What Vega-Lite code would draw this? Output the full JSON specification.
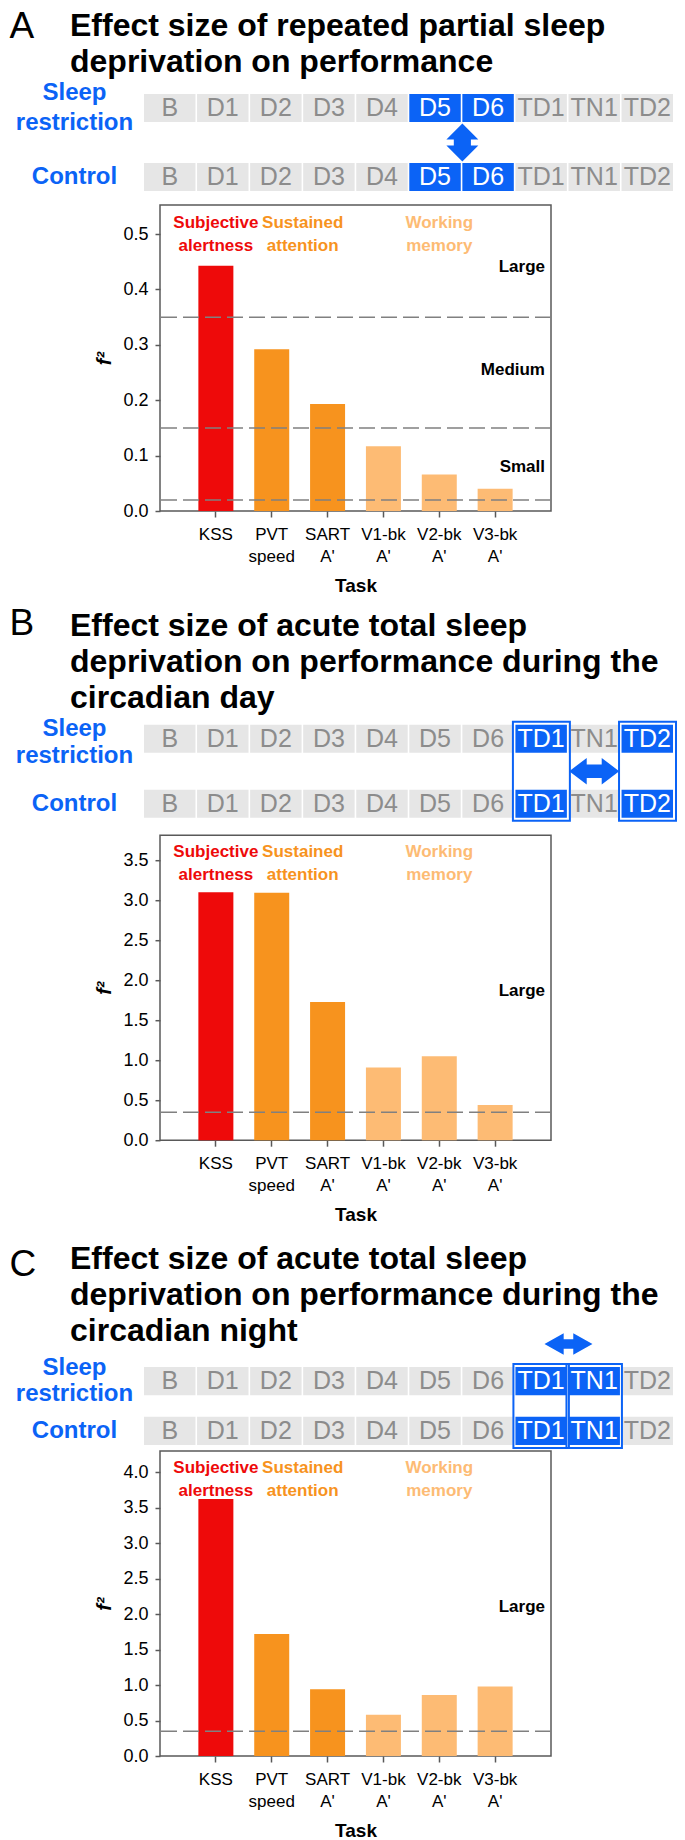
{
  "$schema": "https://vega.github.io/schema/vega-lite/v6.json",
  "padding": {"left": 9, "top": 7, "right": 2, "bottom": 2},
  "autosize": {"type": "pad"},
  "config": {
    "font": "Liberation Sans",
    "view": {"stroke": null},
    "axis": {"labelFont": "Liberation Sans", "titleFont": "Liberation Sans"},
    "title": {"font": "Liberation Sans"}
  },
  "datasets": {
    "schedA": [
      {"row": "Sleep restriction", "day": "B", "compared": "no"},
      {"row": "Sleep restriction", "day": "D1", "compared": "no"},
      {"row": "Sleep restriction", "day": "D2", "compared": "no"},
      {"row": "Sleep restriction", "day": "D3", "compared": "no"},
      {"row": "Sleep restriction", "day": "D4", "compared": "no"},
      {"row": "Sleep restriction", "day": "D5", "compared": "yes"},
      {"row": "Sleep restriction", "day": "D6", "compared": "yes"},
      {"row": "Sleep restriction", "day": "TD1", "compared": "no"},
      {"row": "Sleep restriction", "day": "TN1", "compared": "no"},
      {"row": "Sleep restriction", "day": "TD2", "compared": "no"},
      {"row": "Control", "day": "B", "compared": "no"},
      {"row": "Control", "day": "D1", "compared": "no"},
      {"row": "Control", "day": "D2", "compared": "no"},
      {"row": "Control", "day": "D3", "compared": "no"},
      {"row": "Control", "day": "D4", "compared": "no"},
      {"row": "Control", "day": "D5", "compared": "yes"},
      {"row": "Control", "day": "D6", "compared": "yes"},
      {"row": "Control", "day": "TD1", "compared": "no"},
      {"row": "Control", "day": "TN1", "compared": "no"},
      {"row": "Control", "day": "TD2", "compared": "no"}
    ],
    "schedB": [
      {"row": "Sleep restriction", "day": "B", "compared": "no"},
      {"row": "Sleep restriction", "day": "D1", "compared": "no"},
      {"row": "Sleep restriction", "day": "D2", "compared": "no"},
      {"row": "Sleep restriction", "day": "D3", "compared": "no"},
      {"row": "Sleep restriction", "day": "D4", "compared": "no"},
      {"row": "Sleep restriction", "day": "D5", "compared": "no"},
      {"row": "Sleep restriction", "day": "D6", "compared": "no"},
      {"row": "Sleep restriction", "day": "TD1", "compared": "yes"},
      {"row": "Sleep restriction", "day": "TN1", "compared": "no"},
      {"row": "Sleep restriction", "day": "TD2", "compared": "yes"},
      {"row": "Control", "day": "B", "compared": "no"},
      {"row": "Control", "day": "D1", "compared": "no"},
      {"row": "Control", "day": "D2", "compared": "no"},
      {"row": "Control", "day": "D3", "compared": "no"},
      {"row": "Control", "day": "D4", "compared": "no"},
      {"row": "Control", "day": "D5", "compared": "no"},
      {"row": "Control", "day": "D6", "compared": "no"},
      {"row": "Control", "day": "TD1", "compared": "yes"},
      {"row": "Control", "day": "TN1", "compared": "no"},
      {"row": "Control", "day": "TD2", "compared": "yes"}
    ],
    "schedC": [
      {"row": "Sleep restriction", "day": "B", "compared": "no"},
      {"row": "Sleep restriction", "day": "D1", "compared": "no"},
      {"row": "Sleep restriction", "day": "D2", "compared": "no"},
      {"row": "Sleep restriction", "day": "D3", "compared": "no"},
      {"row": "Sleep restriction", "day": "D4", "compared": "no"},
      {"row": "Sleep restriction", "day": "D5", "compared": "no"},
      {"row": "Sleep restriction", "day": "D6", "compared": "no"},
      {"row": "Sleep restriction", "day": "TD1", "compared": "yes"},
      {"row": "Sleep restriction", "day": "TN1", "compared": "yes"},
      {"row": "Sleep restriction", "day": "TD2", "compared": "no"},
      {"row": "Control", "day": "B", "compared": "no"},
      {"row": "Control", "day": "D1", "compared": "no"},
      {"row": "Control", "day": "D2", "compared": "no"},
      {"row": "Control", "day": "D3", "compared": "no"},
      {"row": "Control", "day": "D4", "compared": "no"},
      {"row": "Control", "day": "D5", "compared": "no"},
      {"row": "Control", "day": "D6", "compared": "no"},
      {"row": "Control", "day": "TD1", "compared": "yes"},
      {"row": "Control", "day": "TN1", "compared": "yes"},
      {"row": "Control", "day": "TD2", "compared": "no"}
    ],
    "effA": [
      {"task": "KSS", "group": "Subjective alertness", "f2": 0.443},
      {"task": "PVT speed", "group": "Sustained attention", "f2": 0.292},
      {"task": "SART A'", "group": "Sustained attention", "f2": 0.193},
      {"task": "V1-bk A'", "group": "Working memory", "f2": 0.117},
      {"task": "V2-bk A'", "group": "Working memory", "f2": 0.066},
      {"task": "V3-bk A'", "group": "Working memory", "f2": 0.040}
    ],
    "effB": [
      {"task": "KSS", "group": "Subjective alertness", "f2": 3.096},
      {"task": "PVT speed", "group": "Sustained attention", "f2": 3.09},
      {"task": "SART A'", "group": "Sustained attention", "f2": 1.725},
      {"task": "V1-bk A'", "group": "Working memory", "f2": 0.909},
      {"task": "V2-bk A'", "group": "Working memory", "f2": 1.05},
      {"task": "V3-bk A'", "group": "Working memory", "f2": 0.44}
    ],
    "effC": [
      {"task": "KSS", "group": "Subjective alertness", "f2": 3.625},
      {"task": "PVT speed", "group": "Sustained attention", "f2": 1.72},
      {"task": "SART A'", "group": "Sustained attention", "f2": 0.94},
      {"task": "V1-bk A'", "group": "Working memory", "f2": 0.58},
      {"task": "V2-bk A'", "group": "Working memory", "f2": 0.86},
      {"task": "V3-bk A'", "group": "Working memory", "f2": 0.98}
    ],
    "thrA": [
      {"threshold": 0.02, "level": "Small"},
      {"threshold": 0.15, "level": "Medium"},
      {"threshold": 0.35, "level": "Large"}
    ],
    "thrL": [
      {"threshold": 0.35, "level": "Large"}
    ],
    "groupsMain": [
      {"group": "Subjective alertness", "task": "KSS"},
      {"group": "Working memory", "task": "V2-bk A'"}
    ],
    "groupsSus": [
      {"group": "Sustained attention", "task": "PVT speed"}
    ],
    "outlineB": [
      {"day": "TD1", "from": "Sleep restriction", "to": "Control"},
      {"day": "TD2", "from": "Sleep restriction", "to": "Control"}
    ],
    "outlineC": [
      {"day": "TD1", "from": "Sleep restriction", "to": "Control"},
      {"day": "TN1", "from": "Sleep restriction", "to": "Control"}
    ]
  },
  "spacing": 8.7,
  "resolve": {"scale": {"color": "independent", "fill": "independent"}},
  "vconcat": [
    {
      "spacing": 13,
      "resolve": {"scale": {"color": "independent", "fill": "independent"}},
      "vconcat": [
        {
          "width": 513, "height": 97,
          "view": {"stroke": null},
          "title": {
            "text": ["Effect size of repeated partial sleep", "deprivation on performance"],
            "anchor": "start", "frame": "group", "dx": -90, "offset": -71.6,
            "fontSize": 32, "fontWeight": "bold", "color": "#000000", "lineHeight": 36
          },
          "data": {"name": "schedA"},
          "encoding": {
            "x": {"field": "day", "type": "nominal", "scale": {"domain": ["B","D1","D2","D3","D4","D5","D6","TD1","TN1","TD2"], "range": [-16, 513], "paddingInner": 0.03, "paddingOuter": 0}, "axis": null},
            "y": {"field": "row", "type": "nominal", "scale": {"domain": ["Sleep restriction", "Control"], "paddingInner": 0.594, "paddingOuter": 0},
              "axis": {"title": "A", "titleAngle": 0, "titleAlign": "left", "titleBaseline": "alphabetic", "titleX": -151, "titleY": -56.6, "titleFontSize": 37, "titleFontWeight": "normal", "titleColor": "#000000",
                "domain": false, "ticks": false, "tickSize": 0, "labelPadding": 86, "labelAlign": "center",
                "labelBaseline": {"condition": {"test": "datum.value == 'Sleep restriction'", "value": "line-bottom"}, "value": "middle"},
                "labelFontSize": 24, "labelFontWeight": "bold", "labelColor": "#0B63F6", "labelLineHeight": 30, "labelOverlap": false, "labelExpr": "datum.value == 'Sleep restriction' ? ['Sleep', 'restriction'] : datum.value"}}
          },
          "layer": [
            {"mark": {"type": "rect"}, "encoding": {"fill": {"field": "compared", "type": "nominal", "scale": {"domain": ["no","yes"], "range": ["#E6E6E6","#0B63F6"]}, "legend": null}}},
            {"mark": {"type": "text", "fontSize": 25, "font": "Liberation Sans Narrow, Liberation Sans", "baseline": "middle"}, "encoding": {"text": {"field": "day"}, "color": {"field": "compared", "type": "nominal", "scale": {"domain": ["no","yes"], "range": ["#8C8C8C","#FFFFFF"]}, "legend": null}}},
            {"data": {"values": [{"day": "D6", "row": "Sleep restriction"}]},
             "mark": {"type": "point", "shape": "M0,-1L0.84,-0.16L0.45,-0.16L0.45,0.16L0.84,0.16L0,1L-0.84,0.16L-0.45,0.16L-0.45,-0.16L-0.84,-0.16Z", "size": 1444, "filled": true, "color": "#0B63F6", "opacity": 1, "strokeWidth": 0, "yOffset": 20.5},
             "encoding": {"x": {"field": "day", "type": "nominal", "bandPosition": 0}, "y": {"field": "row", "type": "nominal", "bandPosition": 1}}}
          ]
        },
        {
          "width": 391, "height": 306,
          "view": {"stroke": "#595959", "strokeWidth": 1.5},
          "layer": [
            {"data": {"name": "effA"}, "mark": {"type": "bar"},
             "encoding": {
               "x": {"field": "task", "type": "nominal", "sort": null, "scale": {"domain": ["KSS","PVT speed","SART A'","V1-bk A'","V2-bk A'","V3-bk A'"], "paddingInner": 0.3734, "paddingOuter": 0.687},
                 "axis": {"title": "Task", "titleFontSize": 19, "titleFontWeight": "bold", "titleColor": "#000000", "titlePadding": 12, "labelAngle": 0, "labelFontSize": 17, "labelColor": "#000000", "labelLineHeight": 22, "labelPadding": 9, "labelBaseline": "top", "labelExpr": "split(datum.value, ' ')", "tickSize": 6, "tickColor": "#595959", "tickWidth": 1.5, "domain": false}},
               "y": {"field": "f2", "type": "quantitative", "scale": {"domain": [0, 0.5525], "nice": false, "zero": true},
                 "axis": {"title": "f²", "titleFontSize": 20, "titleFontWeight": "bold", "titleFontStyle": "italic", "titleColor": "#000000", "titlePadding": 8, "values": [0, 0.1, 0.2, 0.3, 0.4, 0.5], "tickCount": 20, "format": ".1f", "grid": false, "domain": false, "tickSize": 5, "tickColor": "#595959", "tickWidth": 1.5, "labelFontSize": 18, "labelColor": "#000000", "labelPadding": 7, "labelOverlap": false}},
               "color": {"field": "group", "type": "nominal", "scale": {"domain": ["Subjective alertness","Sustained attention","Working memory"], "range": ["#EE0A0A","#F7931E","#FDBB74"]}, "legend": null}
             }},
            {"data": {"name": "thrA"}, "mark": {"type": "rule", "color": "#808080", "strokeWidth": 1.5, "strokeDash": [16, 6]},
             "encoding": {"y": {"field": "threshold", "type": "quantitative"}}},
            {"data": {"values": [{"level": "Large"}]}, "mark": {"type": "text", "align": "right", "baseline": "middle", "dx": -6, "fontSize": 17, "fontWeight": "bold", "color": "#000000"},
             "encoding": {"x": {"value": "width"}, "y": {"datum": 0.44, "type": "quantitative"}, "text": {"field": "level"}}},
            {"data": {"values": [{"level": "Medium"}]}, "mark": {"type": "text", "align": "right", "baseline": "middle", "dx": -6, "fontSize": 17, "fontWeight": "bold", "color": "#000000"},
             "encoding": {"x": {"value": "width"}, "y": {"datum": 0.254, "type": "quantitative"}, "text": {"field": "level"}}},
            {"data": {"values": [{"level": "Small"}]}, "mark": {"type": "text", "align": "right", "baseline": "middle", "dx": -6, "fontSize": 17, "fontWeight": "bold", "color": "#000000"},
             "encoding": {"x": {"value": "width"}, "y": {"datum": 0.079, "type": "quantitative"}, "text": {"field": "level"}}},
            {"data": {"name": "groupsMain"}, "mark": {"type": "text", "lineBreak": " ", "fontSize": 17, "fontWeight": "bold", "lineHeight": 23, "baseline": "line-bottom"},
             "encoding": {"x": {"field": "task", "type": "nominal"}, "y": {"datum": 0.499, "type": "quantitative"}, "text": {"field": "group"}, "color": {"field": "group", "type": "nominal"}}},
            {"data": {"name": "groupsSus"}, "mark": {"type": "text", "lineBreak": " ", "fontSize": 17, "fontWeight": "bold", "lineHeight": 23, "baseline": "line-bottom"},
             "encoding": {"x": {"field": "task", "type": "nominal", "bandPosition": 1.386}, "y": {"datum": 0.499, "type": "quantitative"}, "text": {"field": "group"}, "color": {"field": "group", "type": "nominal"}}}
          ]
        }
      ]
    },
    {
      "spacing": 17.3,
      "resolve": {"scale": {"color": "independent", "fill": "independent"}},
      "vconcat": [
        {
          "spacing": 12.5,
          "resolve": {"scale": {"color": "independent", "fill": "independent"}},
          "vconcat": [
            {
              "width": 513, "height": 93,
              "view": {"stroke": null},
              "title": {
                "text": ["Effect size of acute total sleep", "deprivation on performance during the", "circadian day"],
                "anchor": "start", "frame": "group", "dx": -90, "offset": -110,
                "fontSize": 32, "fontWeight": "bold", "color": "#000000", "lineHeight": 36
              },
              "data": {"name": "schedB"},
              "encoding": {
                "x": {"field": "day", "type": "nominal", "scale": {"domain": ["B","D1","D2","D3","D4","D5","D6","TD1","TN1","TD2"], "range": [-16, 513], "paddingInner": 0.03, "paddingOuter": 0}, "axis": null},
                "y": {"field": "row", "type": "nominal", "scale": {"domain": ["Sleep restriction", "Control"], "paddingInner": 0.569, "paddingOuter": 0},
                  "axis": {"title": "B", "titleAngle": 0, "titleAlign": "left", "titleBaseline": "alphabetic", "titleX": -151, "titleY": -90, "titleFontSize": 37, "titleFontWeight": "normal", "titleColor": "#000000",
                    "domain": false, "ticks": false, "tickSize": 0, "labelPadding": 86, "labelAlign": "center",
                    "labelBaseline": {"condition": {"test": "datum.value == 'Sleep restriction'", "value": "line-bottom"}, "value": "middle"},
                    "labelOffset": {"condition": {"test": "datum.value == 'Sleep restriction'", "value": 4}, "value": 0},
                    "labelFontSize": 24, "labelFontWeight": "bold", "labelColor": "#0B63F6", "labelLineHeight": 27, "labelOverlap": false, "labelExpr": "datum.value == 'Sleep restriction' ? ['Sleep', 'restriction'] : datum.value"}}
              },
              "layer": [
                {"mark": {"type": "rect"}, "encoding": {"fill": {"field": "compared", "type": "nominal", "scale": {"domain": ["no","yes"], "range": ["#E6E6E6","#0B63F6"]}, "legend": null}}},
                {"mark": {"type": "text", "fontSize": 25, "font": "Liberation Sans Narrow, Liberation Sans", "baseline": "middle"}, "encoding": {"text": {"field": "day"}, "color": {"field": "compared", "type": "nominal", "scale": {"domain": ["no","yes"], "range": ["#8C8C8C","#FFFFFF"]}, "legend": null}}},
                {"data": {"name": "outlineB"},
                 "mark": {"type": "rect", "filled": false, "stroke": "#0B63F6", "strokeWidth": 2, "xOffset": -2.5, "x2Offset": 3, "yOffset": -3, "y2Offset": 3},
                 "encoding": {"x": {"field": "day", "type": "nominal", "bandPosition": 0}, "x2": {"field": "day", "bandPosition": 1}, "y": {"field": "from", "type": "nominal", "bandPosition": 0}, "y2": {"field": "to", "bandPosition": 1}}},
                {"data": {"values": [{"day": "TN1", "row": "Sleep restriction"}]},
                 "mark": {"type": "point", "shape": "M-1,0L-0.3,-0.53L-0.3,-0.27L0.3,-0.27L0.3,-0.53L1,0L0.3,0.53L0.3,0.27L-0.3,0.27L-0.3,0.53Z", "size": 2500, "filled": true, "color": "#0B63F6", "opacity": 1, "strokeWidth": 0, "yOffset": 18.5},
                 "encoding": {"x": {"field": "day", "type": "nominal", "bandPosition": 0.5}, "y": {"field": "row", "type": "nominal", "bandPosition": 1}}}
              ]
            },
            {
              "width": 391, "height": 305,
              "view": {"stroke": "#595959", "strokeWidth": 1.5},
              "layer": [
                {"data": {"name": "effB"}, "mark": {"type": "bar"},
                 "encoding": {
                   "x": {"field": "task", "type": "nominal", "sort": null, "scale": {"domain": ["KSS","PVT speed","SART A'","V1-bk A'","V2-bk A'","V3-bk A'"], "paddingInner": 0.3734, "paddingOuter": 0.687},
                     "axis": {"title": "Task", "titleFontSize": 19, "titleFontWeight": "bold", "titleColor": "#000000", "titlePadding": 12, "labelAngle": 0, "labelFontSize": 17, "labelColor": "#000000", "labelLineHeight": 22, "labelPadding": 9, "labelBaseline": "top", "labelExpr": "split(datum.value, ' ')", "tickSize": 6, "tickColor": "#595959", "tickWidth": 1.5, "domain": false}},
                   "y": {"field": "f2", "type": "quantitative", "scale": {"domain": [0, 3.81], "nice": false, "zero": true},
                     "axis": {"title": "f²", "titleFontSize": 20, "titleFontWeight": "bold", "titleFontStyle": "italic", "titleColor": "#000000", "titlePadding": 8, "values": [0, 0.5, 1, 1.5, 2, 2.5, 3, 3.5], "tickCount": 20, "format": ".1f", "grid": false, "domain": false, "tickSize": 5, "tickColor": "#595959", "tickWidth": 1.5, "labelFontSize": 18, "labelColor": "#000000", "labelPadding": 7, "labelOverlap": false}},
                   "color": {"field": "group", "type": "nominal", "scale": {"domain": ["Subjective alertness","Sustained attention","Working memory"], "range": ["#EE0A0A","#F7931E","#FDBB74"]}, "legend": null}
                 }},
                {"data": {"name": "thrL"}, "mark": {"type": "rule", "color": "#808080", "strokeWidth": 1.5, "strokeDash": [16, 6]},
                 "encoding": {"y": {"field": "threshold", "type": "quantitative"}}},
                {"data": {"values": [{"level": "Large"}]}, "mark": {"type": "text", "align": "right", "baseline": "middle", "dx": -6, "fontSize": 17, "fontWeight": "bold", "color": "#000000"},
                 "encoding": {"x": {"value": "width"}, "y": {"datum": 1.86, "type": "quantitative"}, "text": {"field": "level"}}},
                {"data": {"name": "groupsMain"}, "mark": {"type": "text", "lineBreak": " ", "fontSize": 17, "fontWeight": "bold", "lineHeight": 23, "baseline": "line-bottom"},
                 "encoding": {"x": {"field": "task", "type": "nominal"}, "y": {"datum": 3.45, "type": "quantitative"}, "text": {"field": "group"}, "color": {"field": "group", "type": "nominal"}}},
                {"data": {"name": "groupsSus"}, "mark": {"type": "text", "lineBreak": " ", "fontSize": 17, "fontWeight": "bold", "lineHeight": 23, "baseline": "line-bottom"},
                 "encoding": {"x": {"field": "task", "type": "nominal", "bandPosition": 1.386}, "y": {"datum": 3.45, "type": "quantitative"}, "text": {"field": "group"}, "color": {"field": "group", "type": "nominal"}}}
              ]
            }
          ]
        },
        {
          "spacing": 1,
          "resolve": {"scale": {"color": "independent", "fill": "independent"}},
          "vconcat": [
            {
              "width": 513, "height": 78,
              "view": {"stroke": null},
              "title": {
                "text": ["Effect size of acute total sleep", "deprivation on performance during the", "circadian night"],
                "anchor": "start", "frame": "group", "dx": -90, "offset": -102.9,
                "fontSize": 32, "fontWeight": "bold", "color": "#000000", "lineHeight": 36
              },
              "data": {"name": "schedC"},
              "encoding": {
                "x": {"field": "day", "type": "nominal", "scale": {"domain": ["B","D1","D2","D3","D4","D5","D6","TD1","TN1","TD2"], "range": [-16, 513], "paddingInner": 0.03, "paddingOuter": 0}, "axis": null},
                "y": {"field": "row", "type": "nominal", "scale": {"domain": ["Sleep restriction", "Control"], "paddingInner": 0.432, "paddingOuter": 0},
                  "axis": {"title": "C", "titleAngle": 0, "titleAlign": "left", "titleBaseline": "alphabetic", "titleX": -151, "titleY": -91.6, "titleFontSize": 37, "titleFontWeight": "normal", "titleColor": "#000000",
                    "domain": false, "ticks": false, "tickSize": 0, "labelPadding": 86, "labelAlign": "center",
                    "labelBaseline": {"condition": {"test": "datum.value == 'Sleep restriction'", "value": "line-bottom"}, "value": "middle"},
                    "labelFontSize": 24, "labelFontWeight": "bold", "labelColor": "#0B63F6", "labelLineHeight": 26, "labelOverlap": false, "labelExpr": "datum.value == 'Sleep restriction' ? ['Sleep', 'restriction'] : datum.value"}}
              },
              "layer": [
                {"mark": {"type": "rect"}, "encoding": {"fill": {"field": "compared", "type": "nominal", "scale": {"domain": ["no","yes"], "range": ["#E6E6E6","#0B63F6"]}, "legend": null}}},
                {"mark": {"type": "text", "fontSize": 25, "font": "Liberation Sans Narrow, Liberation Sans", "baseline": "middle"}, "encoding": {"text": {"field": "day"}, "color": {"field": "compared", "type": "nominal", "scale": {"domain": ["no","yes"], "range": ["#8C8C8C","#FFFFFF"]}, "legend": null}}},
                {"data": {"name": "outlineC"},
                 "mark": {"type": "rect", "filled": false, "stroke": "#0B63F6", "strokeWidth": 2, "xOffset": -2, "x2Offset": 2, "yOffset": -3, "y2Offset": 3},
                 "encoding": {"x": {"field": "day", "type": "nominal", "bandPosition": 0}, "x2": {"field": "day", "bandPosition": 1}, "y": {"field": "from", "type": "nominal", "bandPosition": 0}, "y2": {"field": "to", "bandPosition": 1}}},
                {"data": {"values": [{"day": "TN1", "row": "Sleep restriction"}]},
                 "mark": {"type": "point", "shape": "M-1,0L-0.2,-0.45L-0.2,-0.2L0.2,-0.2L0.2,-0.45L1,0L0.2,0.45L0.2,0.2L-0.2,0.2L-0.2,0.45Z", "size": 2304, "filled": true, "color": "#0B63F6", "opacity": 1, "strokeWidth": 0, "yOffset": -23},
                 "encoding": {"x": {"field": "day", "type": "nominal", "bandPosition": 0}, "y": {"field": "row", "type": "nominal", "bandPosition": 0}}}
              ]
            },
            {
              "width": 391, "height": 305,
              "view": {"stroke": "#595959", "strokeWidth": 1.5},
              "layer": [
                {"data": {"name": "effC"}, "mark": {"type": "bar"},
                 "encoding": {
                   "x": {"field": "task", "type": "nominal", "sort": null, "scale": {"domain": ["KSS","PVT speed","SART A'","V1-bk A'","V2-bk A'","V3-bk A'"], "paddingInner": 0.3734, "paddingOuter": 0.687},
                     "axis": {"title": "Task", "titleFontSize": 19, "titleFontWeight": "bold", "titleColor": "#000000", "titlePadding": 12, "labelAngle": 0, "labelFontSize": 17, "labelColor": "#000000", "labelLineHeight": 22, "labelPadding": 9, "labelBaseline": "top", "labelExpr": "split(datum.value, ' ')", "tickSize": 6, "tickColor": "#595959", "tickWidth": 1.5, "domain": false}},
                   "y": {"field": "f2", "type": "quantitative", "scale": {"domain": [0, 4.3], "nice": false, "zero": true},
                     "axis": {"title": "f²", "titleFontSize": 20, "titleFontWeight": "bold", "titleFontStyle": "italic", "titleColor": "#000000", "titlePadding": 8, "values": [0, 0.5, 1, 1.5, 2, 2.5, 3, 3.5, 4], "tickCount": 20, "format": ".1f", "grid": false, "domain": false, "tickSize": 5, "tickColor": "#595959", "tickWidth": 1.5, "labelFontSize": 18, "labelColor": "#000000", "labelPadding": 7, "labelOverlap": false}},
                   "color": {"field": "group", "type": "nominal", "scale": {"domain": ["Subjective alertness","Sustained attention","Working memory"], "range": ["#EE0A0A","#F7931E","#FDBB74"]}, "legend": null}
                 }},
                {"data": {"name": "thrL"}, "mark": {"type": "rule", "color": "#808080", "strokeWidth": 1.5, "strokeDash": [16, 6]},
                 "encoding": {"y": {"field": "threshold", "type": "quantitative"}}},
                {"data": {"values": [{"level": "Large"}]}, "mark": {"type": "text", "align": "right", "baseline": "middle", "dx": -6, "fontSize": 17, "fontWeight": "bold", "color": "#000000"},
                 "encoding": {"x": {"value": "width"}, "y": {"datum": 2.1, "type": "quantitative"}, "text": {"field": "level"}}},
                {"data": {"name": "groupsMain"}, "mark": {"type": "text", "lineBreak": " ", "fontSize": 17, "fontWeight": "bold", "lineHeight": 23, "baseline": "line-bottom"},
                 "encoding": {"x": {"field": "task", "type": "nominal"}, "y": {"datum": 3.89, "type": "quantitative"}, "text": {"field": "group"}, "color": {"field": "group", "type": "nominal"}}},
                {"data": {"name": "groupsSus"}, "mark": {"type": "text", "lineBreak": " ", "fontSize": 17, "fontWeight": "bold", "lineHeight": 23, "baseline": "line-bottom"},
                 "encoding": {"x": {"field": "task", "type": "nominal", "bandPosition": 1.386}, "y": {"datum": 3.89, "type": "quantitative"}, "text": {"field": "group"}, "color": {"field": "group", "type": "nominal"}}}
              ]
            }
          ]
        }
      ]
    }
  ]
}
